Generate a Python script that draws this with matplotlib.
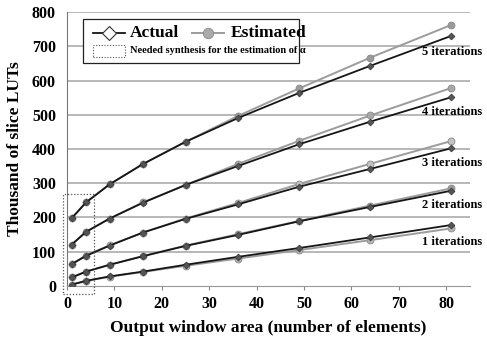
import numpy as np
import matplotlib.pyplot as plt
from matplotlib.lines import Line2D
from matplotlib.patches import Rectangle

plt.rcParams['font.family'] = 'Liberation Serif'
plt.rcParams['font.weight'] = 'bold'

area = [1, 4, 9, 16, 25, 36, 49, 64, 81]

actual = {
    1: [4, 15, 28, 42, 62, 85, 111, 142, 178],
    2: [25, 42, 62, 87, 117, 149, 189, 231, 278],
    3: [64, 88, 118, 156, 196, 238, 290, 342, 402],
    4: [121, 158, 197, 243, 295, 350, 414, 480, 551],
    5: [198, 244, 297, 356, 421, 490, 564, 643, 730],
}
estimated = {
    1: [4, 15, 27, 41, 59, 80, 105, 134, 168],
    2: [25, 42, 62, 87, 118, 151, 190, 235, 285],
    3: [64, 89, 119, 156, 197, 242, 298, 357, 423],
    4: [121, 158, 197, 244, 295, 356, 424, 498, 578],
    5: [198, 244, 297, 356, 421, 496, 577, 667, 762],
}
est_colors = {1: '#b4b4b4', 2: '#9a9a9a', 3: '#c2c2c2', 4: '#a8a8a8', 5: '#9a9a9a'}
label_y = {1: 128, 2: 236, 3: 359, 4: 508, 5: 683}
yticks = np.arange(0, 900, 100)

fig = plt.figure(figsize=(4.87, 3.41), dpi=100)
ax = fig.add_axes([0.1376, 0.1613, 0.8275, 0.8035])

ax.set_xlim(0, 85)
ax.set_ylim(0, 800)
ax.set_xticks(np.arange(0, 90, 10))
ax.set_yticks(yticks)

# horizontal grid
ax.hlines(yticks[1:], 0, 85, colors='#acacac', linewidth=1.2, zorder=1)

for it in range(1, 6):
    ax.plot(area, estimated[it], color='#9c9c9c', lw=1.4, marker='o', ms=5,
            mfc=est_colors[it], mec='#8a8a8a', mew=0.6, zorder=3)
    ax.plot(area, actual[it], color='#151515', lw=1.3, marker='D', ms=3.5,
            mfc='#555555', mec='#333333', mew=0.5, zorder=4)
    ax.text(87.5, label_y[it], f'{it} iterations', ha='right', va='center',
            fontsize=9, fontweight='bold', clip_on=False)

# synthesis region needed for alpha estimation
ax.add_patch(Rectangle((-0.9, -24), 6.6, 292, fill=False, ls=(0, (1, 1.5)),
                       lw=0.9, ec='#555555', clip_on=False, zorder=5))

ax.tick_params(axis='both', labelsize=11.5)
ax.tick_params(axis='y', length=0, pad=8)
ax.tick_params(axis='x', length=3, color='#888888', pad=4)
for s in ['top', 'right']:
    ax.spines[s].set_visible(False)
ax.spines['left'].set_color('#777777')
ax.spines['bottom'].set_color('#999999')

ax.set_xlabel('Output window area (number of elements)', fontsize=12.5, fontweight='bold', labelpad=6)
ax.set_ylabel('Thousand of slice LUTs', fontsize=12.5, fontweight='bold', labelpad=6)

# hand-built legend box
tr = ax.transAxes
ax.add_patch(Rectangle((0.040, 0.814), 0.536, 0.160, transform=tr, fill=True,
                       fc='white', ec='#222222', lw=0.9, zorder=6))
ax.add_line(Line2D([0.064, 0.144], [0.923, 0.923], transform=tr, color='#151515', lw=1.3,
                   zorder=7))
ax.add_line(Line2D([0.104], [0.923], transform=tr, marker='D', ms=7, mfc='white',
                   mec='#333333', mew=0.8, zorder=8))
ax.text(0.157, 0.923, 'Actual', transform=tr, fontsize=12.5, fontweight='bold',
        va='center', zorder=8)
ax.add_line(Line2D([0.310, 0.390], [0.923, 0.923], transform=tr, color='#9c9c9c', lw=1.4,
                   zorder=7))
ax.add_line(Line2D([0.350], [0.923], transform=tr, marker='o', ms=7.5, mfc='#aaaaaa',
                   mec='#8a8a8a', mew=0.6, zorder=8))
ax.text(0.405, 0.923, 'Estimated', transform=tr, fontsize=12.5, fontweight='bold',
        va='center', zorder=8)
ax.add_patch(Rectangle((0.064, 0.837), 0.080, 0.044, transform=tr, fill=False,
                       ls=(0, (1, 1.5)), lw=0.8, ec='#555555', zorder=8))
ax.text(0.157, 0.858, 'Needed synthesis for the estimation of α', transform=tr,
        fontsize=7.5, fontweight='bold', va='center', zorder=8)

fig.savefig('out.png', dpi=100)
